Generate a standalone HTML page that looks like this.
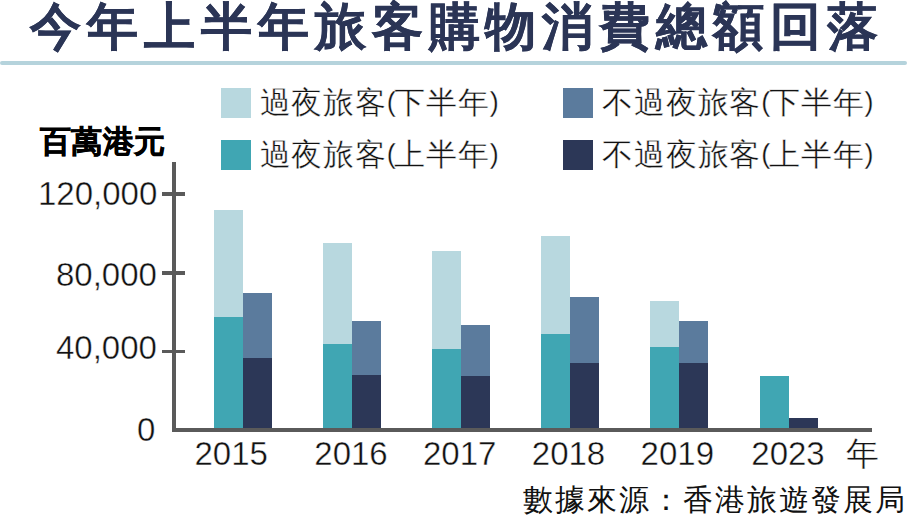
<!DOCTYPE html>
<html lang="zh-Hant"><head><meta charset="utf-8">
<style>
html,body{margin:0;padding:0;background:#fff;}
body{width:907px;height:516px;position:relative;overflow:hidden;font-family:"Liberation Sans",sans-serif;}
.a{position:absolute;white-space:nowrap;}
.b{position:absolute;}
#title{left:30.3px;top:-5.0px;font-size:51px;line-height:64px;font-weight:bold;color:#2b3556;letter-spacing:5.9px;-webkit-text-stroke:0.4px #2b3556;}
.rule{left:0;top:60.6px;width:907px;height:4.6px;border-radius:3px;background:#b5d3dc;}
.lg{font-size:31px;line-height:32px;color:#111;letter-spacing:0.8px;-webkit-text-stroke:0.4px #fff;}
.sw{position:absolute;width:30px;height:30px;}
.p{font-size:27px;letter-spacing:-1.3px;position:relative;top:-2.8px;-webkit-text-stroke:0.3px #fff;}
#unit{left:40px;top:124px;font-size:30.5px;line-height:34px;font-weight:bold;color:#000;letter-spacing:0.3px;-webkit-text-stroke:0.6px #000;}
.yl{font-size:33px;line-height:34px;color:#111;-webkit-text-stroke:0.4px #fff;}
.xl{font-size:33px;line-height:34px;color:#111;-webkit-text-stroke:0.4px #fff;}
#src{left:523px;top:481.5px;font-size:30px;line-height:36px;color:#111;letter-spacing:2.0px;}
</style></head><body>
<div class="a" id="title">今年上半年旅客購物消費總額回落</div>
<div class="a rule"></div>

<div class="sw" style="left:221px;top:88.3px;background:#b8d8df"></div>
<div class="a lg" id="l1" style="left:259.5px;top:87.3px">過夜旅客<span class="p">(</span>下半年<span class="p">)</span></div>
<div class="sw" style="left:221px;top:140.2px;background:#40a6b3"></div>
<div class="a lg" id="l2" style="left:259.5px;top:139.3px">過夜旅客<span class="p">(</span>上半年<span class="p">)</span></div>
<div class="sw" style="left:563px;top:88.3px;background:#5b7b9d"></div>
<div class="a lg" id="l3" style="left:602.3px;top:87.3px">不過夜旅客<span class="p">(</span>下半年<span class="p">)</span></div>
<div class="sw" style="left:563px;top:140.2px;background:#2c3757"></div>
<div class="a lg" id="l4" style="left:602.3px;top:139.3px">不過夜旅客<span class="p">(</span>上半年<span class="p">)</span></div>

<div class="a" id="unit">百萬港元</div>

<div class="a yl" id="y120" style="left:38px;top:177px">120,000</div>
<div class="a yl" id="y80" style="left:56px;top:258px">80,000</div>
<div class="a yl" id="y40" style="left:56px;top:331px">40,000</div>
<div class="a yl" id="y0" style="left:137px;top:413px">0</div>

<div class="b" style="left:214px;top:209.8px;width:29px;height:218.2px;background:#b8d8df"></div><div class="b" style="left:214px;top:317.3px;width:29px;height:110.7px;background:#40a6b3"></div><div class="b" style="left:243px;top:292.5px;width:29px;height:135.5px;background:#5b7b9d"></div><div class="b" style="left:243px;top:357.5px;width:29px;height:70.5px;background:#2c3757"></div><div class="b" style="left:323px;top:243.0px;width:29px;height:185.0px;background:#b8d8df"></div><div class="b" style="left:323px;top:343.6px;width:29px;height:84.4px;background:#40a6b3"></div><div class="b" style="left:352px;top:321.2px;width:29px;height:106.8px;background:#5b7b9d"></div><div class="b" style="left:352px;top:374.6px;width:29px;height:53.4px;background:#2c3757"></div><div class="b" style="left:432px;top:250.6px;width:29px;height:177.4px;background:#b8d8df"></div><div class="b" style="left:432px;top:349.0px;width:29px;height:79.0px;background:#40a6b3"></div><div class="b" style="left:461px;top:324.6px;width:29px;height:103.4px;background:#5b7b9d"></div><div class="b" style="left:461px;top:375.7px;width:29px;height:52.3px;background:#2c3757"></div><div class="b" style="left:541.3px;top:235.9px;width:29px;height:192.1px;background:#b8d8df"></div><div class="b" style="left:541.3px;top:334.3px;width:29px;height:93.7px;background:#40a6b3"></div><div class="b" style="left:570.3px;top:297.1px;width:29px;height:130.9px;background:#5b7b9d"></div><div class="b" style="left:570.3px;top:362.5px;width:29px;height:65.5px;background:#2c3757"></div><div class="b" style="left:650.2px;top:300.9px;width:29px;height:127.1px;background:#b8d8df"></div><div class="b" style="left:650.2px;top:346.5px;width:29px;height:81.5px;background:#40a6b3"></div><div class="b" style="left:679.2px;top:321.4px;width:29px;height:106.6px;background:#5b7b9d"></div><div class="b" style="left:679.2px;top:362.7px;width:29px;height:65.3px;background:#2c3757"></div><div class="b" style="left:759.8px;top:376.3px;width:29px;height:51.7px;background:#40a6b3"></div><div class="b" style="left:788.8px;top:417.7px;width:29px;height:10.3px;background:#2c3757"></div>

<div class="b" style="left:172px;top:162px;width:4px;height:269.5px;background:#5a5a5a"></div>
<div class="b" style="left:172px;top:428px;width:700px;height:3.6px;background:#5a5a5a"></div>
<div class="b" style="left:162px;top:192px;width:23px;height:3.8px;background:#5a5a5a"></div>
<div class="b" style="left:162px;top:271.4px;width:23px;height:3.7px;background:#5a5a5a"></div>
<div class="b" style="left:162px;top:349.6px;width:23px;height:3.7px;background:#5a5a5a"></div>

<div class="a xl" id="x15" style="left:194.5px;top:436.5px">2015</div>
<div class="a xl" id="x16" style="left:314.3px;top:436.5px">2016</div>
<div class="a xl" id="x17" style="left:423px;top:436.5px">2017</div>
<div class="a xl" id="x18" style="left:531.8px;top:436.5px">2018</div>
<div class="a xl" id="x19" style="left:640.6px;top:436.5px">2019</div>
<div class="a xl" id="x23" style="left:751.3px;top:436.5px">2023</div>
<div class="a xl" id="nian" style="left:845.5px;top:437px">年</div>

<div class="a" id="src">數據來源：香港旅遊發展局</div>
</body></html>
